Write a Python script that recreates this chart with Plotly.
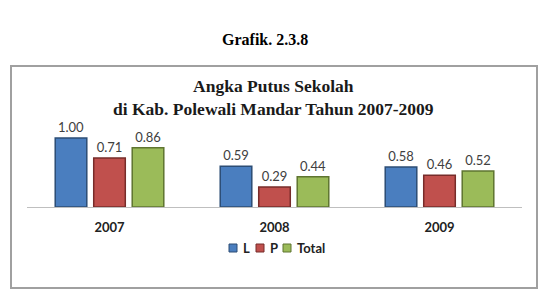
import plotly.graph_objects as go

years = ["2007", "2008", "2009"]
series_names = ["L", "P", "Total"]
values_L = [1.00, 0.59, 0.58]
values_P = [0.71, 0.29, 0.46]
values_T = [0.86, 0.44, 0.52]
colors = ["#4a7ebf", "#c0504d", "#9bbb59"]
edge_colors = ["#2c4d75", "#772c2a", "#5f7530"]

SANS = "Lato"
SERIF = "Liberation Serif"

fig = go.Figure()
for name, vals, c, e in zip(series_names, [values_L, values_P, values_T], colors, edge_colors):
    fig.add_trace(go.Bar(
        x=years, y=vals, name=name,
        marker=dict(color=c, line=dict(color=e, width=1.5)),
        text=[f"{v:.2f}" for v in vals], textposition="outside",
        textfont=dict(family=SANS, size=13, color="#404040"),
        cliponaxis=False, showlegend=False,
    ))

# plot area: x 27..522, y baseline 207, top 100
L, R, T, B = 27, 24, 100, 83
W, H = 546 - L - R, 290 - T - B

def px(x):
    return (x - L) / W

def py(y):
    return (290 - B - y) / H

shapes = [dict(type="rect", xref="paper", yref="paper",
               x0=px(11), x1=px(537), y0=py(288), y1=py(66),
               line=dict(color="#a0a0a0", width=2), layer="below")]
annotations = [
    dict(text="<b>Grafik. 2.3.8</b>", xref="paper", yref="paper", x=px(265), y=py(40),
         showarrow=False, xanchor="center", yanchor="middle",
         font=dict(family=SERIF, size=16, color="black")),
    dict(text="<b>Angka Putus Sekolah<br>di Kab. Polewali Mandar Tahun 2007-2009</b>",
         xref="paper", yref="paper", x=px(273), y=py(97),
         showarrow=False, xanchor="center", yanchor="middle",
         font=dict(family=SERIF, size=17.5, color="#1a1a1a")),
]

# custom compact legend
legend_x = [229, 256, 283]
for name, c, e, lx in zip(series_names, colors, edge_colors, legend_x):
    shapes.append(dict(type="rect", xref="paper", yref="paper",
                       x0=px(lx), x1=px(lx + 8), y0=py(252), y1=py(244),
                       fillcolor=c, line=dict(color=e, width=1)))
    annotations.append(dict(text=f"<b>{name}</b>", xref="paper", yref="paper",
                            x=px(lx + 12), y=py(248), showarrow=False,
                            xanchor="left", yanchor="middle",
                            font=dict(family=SANS, size=13, color="#222222")))

fig.update_layout(
    width=546, height=290,
    margin=dict(l=L, r=R, t=T, b=B),
    paper_bgcolor="white", plot_bgcolor="white",
    barmode="group", bargap=0.3, bargroupgap=0.18,
    showlegend=False,
    xaxis=dict(showline=True, linecolor="#bfbfbf", linewidth=1, ticks="",
               tickfont=dict(family=SANS, size=13, color="#222222", weight="bold"),
               ticklabelstandoff=8),
    yaxis=dict(range=[0, 107 / 69], visible=False, showgrid=False),
    shapes=shapes,
    annotations=annotations,
)

fig.write_html("out.html")
